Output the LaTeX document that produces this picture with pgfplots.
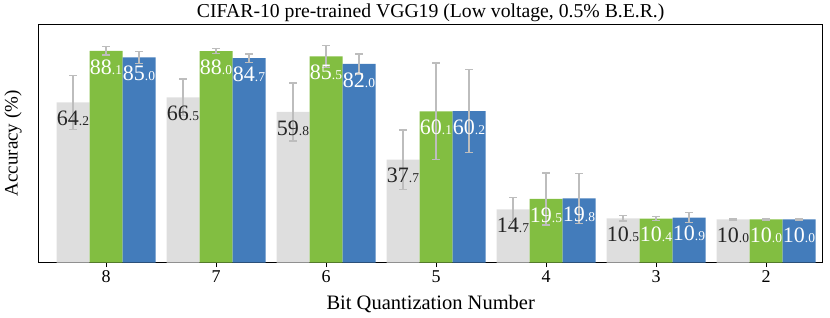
\documentclass[border=0pt]{standalone}
\usepackage{fontspec}
\setmainfont{Liberation Serif}
\usepackage{pgfplots}
\pgfplotsset{compat=1.18}
\usepackage{pgfplotstable}
\definecolor{cgrey}{HTML}{DEDEDE}
\definecolor{cgreen}{HTML}{82BE41}
\definecolor{cblue}{HTML}{437CBB}
\definecolor{cerr}{HTML}{BDBDBD}
\definecolor{ctext}{HTML}{262626}

\pgfplotstableread{
x v e
0 64.2 12.4
1 66.5 8.5
2 59.8 13.4
3 37.7 13.7
4 14.7 5.5
5 10.5 1.2
6 10.0 0.3
}\greytab
\pgfplotstableread{
x v e
0 88.1 1.9
1 88.0 1.2
2 85.5 5.0
3 60.1 22.4
4 19.5 12.0
5 10.4 0.9
6 10.0 0.2
}\greentab
\pgfplotstableread{
x v e
0 85.0 2.9
1 84.7 1.9
2 82.0 4.6
3 60.2 19.1
4 19.8 11.5
5 10.9 2.3
6 10.0 0.2
}\bluetab

\def\splitaux#1.#2\relax{{\fontsize{22}{22}\selectfont #1}{\fontsize{13.5}{13.5}\selectfont .#2}}
\newcommand\splitlabel{\edef\tmp{\pgfplotspointmeta}\expandafter\splitaux\tmp\relax}

\begin{document}
\begin{tikzpicture}
\path[use as bounding box] (-38.7pt,-54.3pt) rectangle (791.3pt,262.7pt);
\begin{axis}[
  scale only axis,
  width=784pt, height=238.7pt,
  ybar=0pt, bar width=0.3,
  xmin=-0.612, xmax=6.515,
  ymin=0, ymax=110.5,
  ytick=\empty,
  xtick={0,1,2,3,4,5,6},
  xticklabels={8,7,6,5,4,3,2},
  x tick style={black, line width=0.8pt},
  major tick length=4.5pt,
  tick align=outside,
  xtick pos=bottom,
  axis line style={black, line width=0.8pt},
  /pgf/number format/assume math mode=true,
  xticklabel style={font=\fontsize{18}{18}\selectfont, text=black},
  title={CIFAR-10 pre-trained VGG19 (Low voltage, 0.5\% B.E.R.)},
  every axis title/.style={font=\fontsize{19.7}{19.7}\selectfont, anchor=base, at={(axis description cs:0.5,1)}, yshift=6.5pt},
  xlabel={Bit Quantization Number},
  every axis x label/.style={font=\fontsize{20.5}{20.5}\selectfont, anchor=base, at={(axis description cs:0.5,0)}, yshift=-46.5pt},
  ylabel={Accuracy (\%)},
  every axis y label/.style={font=\fontsize{19}{19}\selectfont, anchor=center, rotate=90, at={(axis description cs:-0.0328,0.5)}},
  point meta=explicit symbolic,
  nodes near coords={\splitlabel},
  every node near coord/.append style={anchor=north, yshift=-7.5pt, inner sep=1pt},
  error bars/y dir=both,
  error bars/y explicit,
  error bars/error bar style={cerr, line width=1.3pt},
  error bars/error mark options={cerr, line width=1.3pt, mark size=3.6pt, rotate=90},
]
\addplot[fill=cgrey, draw=none, nodes near coords style={text=ctext}]
  table[x=x, y expr=\thisrow{v}+10, y error=e, meta=v]{\greytab};
\addplot[fill=cgreen, draw=none, nodes near coords style={text=white}]
  table[x=x, y expr=\thisrow{v}+10, y error=e, meta=v]{\greentab};
\addplot[fill=cblue, draw=none, nodes near coords style={text=white}]
  table[x=x, y expr=\thisrow{v}+10, y error=e, meta=v]{\bluetab};
\end{axis}
\end{tikzpicture}
\end{document}
